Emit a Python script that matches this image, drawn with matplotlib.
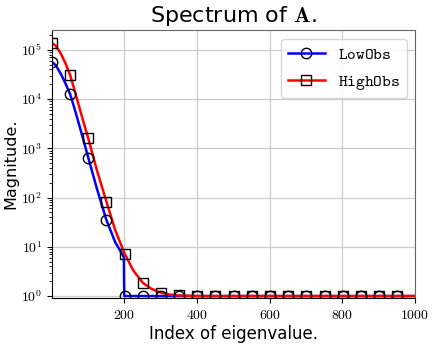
import numpy as np
import matplotlib
matplotlib.use("Agg")
import matplotlib.pyplot as plt
from matplotlib.ticker import FuncFormatter

plt.rcParams['mathtext.fontset'] = 'cm'
plt.rcParams['font.family'] = 'DejaVu Sans'

# values (eigenvalue index -> magnitude)
low_idx = [1, 12, 25, 38, 51, 63, 75, 88, 101, 125, 151, 175, 199, 200, 1000]
low_val = [5.7e4, 4.8e4, 3.3e4, 2.1e4, 1.27e4, 6.5e3, 3.2e3, 1.45e3, 650, 150, 35, 12.5, 6.2, 1.0, 1.0]

high_idx = [1, 12, 25, 38, 51, 63, 75, 88, 101, 125, 151, 175, 201, 225, 251, 275, 301, 325, 351, 400, 1000]
high_val = [1.37e5, 1.2e5, 8.5e4, 5.4e4, 3.1e4, 1.55e4, 7.4e3, 3.4e3, 1.6e3, 355, 83, 22, 7.3, 3.3, 1.86, 1.4, 1.17, 1.07, 1.03, 1.0, 1.0]

marker_idx = list(range(1, 1000, 50))

fig = plt.figure(figsize=(4.36, 3.47), dpi=100)
ax = fig.add_axes([0.119, 0.141, 0.833, 0.772])

def line_and_marks(idx, val, color, marker, label):
    mv = np.interp(marker_idx, idx, np.log10(val))
    ax.plot(idx, val, color=color, lw=1.8, zorder=2)
    ax.plot(marker_idx, 10 ** mv, ls='none', marker=marker, ms=7.5,
            mfc='none', mec='black', mew=1.0, zorder=3)
    ax.plot([], [], color=color, lw=1.8, marker=marker, ms=7.5,
            mfc='none', mec='black', mew=1.0, label=label)

line_and_marks(low_idx, low_val, 'blue', 'o', r'$\mathtt{LowObs}$')
line_and_marks(high_idx, high_val, 'red', 's', r'$\mathtt{HighObs}$')

ax.set_yscale('log')
ax.set_xlim(1, 1000)
ax.set_ylim(0.91, 2.5e5)
ax.set_xticks([200, 400, 600, 800, 1000])
ax.xaxis.set_major_formatter(FuncFormatter(lambda v, p: r'$\mathrm{%d}$' % v))
ax.yaxis.set_major_formatter(FuncFormatter(lambda v, p: r'$\mathrm{10}^{%d}$' % round(np.log10(v))))
ax.tick_params(labelsize=10)
ax.grid(True, which='major', color='0.8', lw=0.9)
ax.set_axisbelow(True)
for s in ['top', 'right']:
    ax.spines[s].set_color('0.4')

ax.set_title(r'Spectrum of $\mathbf{A}$.', fontsize=16)
ax.set_xlabel('Index of eigenvalue.', fontsize=12, labelpad=2)
ax.set_ylabel('Magnitude.', fontsize=11.5, labelpad=2)
ax.legend(loc='upper right', fontsize=12, handlelength=2.2)

fig.savefig('out.png', dpi=100)
